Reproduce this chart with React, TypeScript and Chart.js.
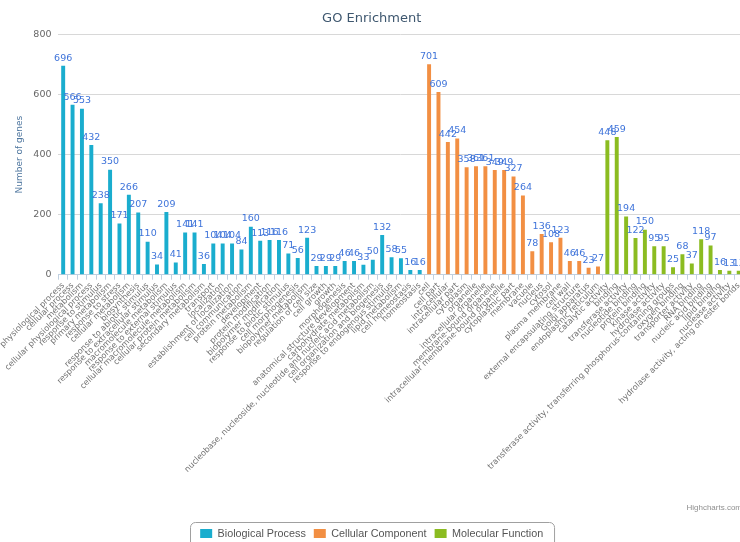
import React, { useEffect, useRef } from "react";
import { Chart, registerables } from "chart.js";

Chart.register(...registerables);

const bpLabels = [
  "physiological process",
  "cellular process",
  "metabolism",
  "cellular physiological process",
  "response to stimulus",
  "primary metabolism",
  "response to stress",
  "cellular metabolism",
  "biosynthesis",
  "response to abiotic stimulus",
  "response to extracellular stimulus",
  "macromolecule metabolism",
  "response to external stimulus",
  "cellular macromolecule metabolism",
  "cellular protein metabolism",
  "secondary metabolism",
  "transport",
  "localization",
  "establishment of localization",
  "cell communication",
  "protein metabolism",
  "development",
  "protein modification",
  "biopolymer modification",
  "response to biotic stimulus",
  "cell morphogenesis",
  "biopolymer metabolism",
  "regulation of cell size",
  "cell growth",
  "growth",
  "morphogenesis",
  "anatomical structure development",
  "carbohydrate metabolism",
  "nucleobase, nucleoside, nucleotide and nucleic acid metabolism",
  "cell organization and biogenesis",
  "response to endogenous stimulus",
  "lipid metabolism",
  "cell homeostasis",
  "homeostasis",
];
const bpValues = [
  696, 566, 553, 432, 238, 350, 171, 266, 207, 110, 34, 209, 41, 141, 141, 36,
  104, 104, 104, 84, 160, 113, 116, 116, 71, 56, 123, 29, 29, 29, 46, 46, 33,
  50, 132, 58, 55, 16, 16,
];

const ccLabels = [
  "cell",
  "cell part",
  "intracellular",
  "intracellular part",
  "cytoplasm",
  "organelle",
  "intracellular organelle",
  "membrane-bound organelle",
  "intracellular membrane-bound organelle",
  "cytoplasmic part",
  "membrane",
  "vacuole",
  "nucleus",
  "cytosol",
  "plasma membrane",
  "cell wall",
  "external encapsulating structure",
  "Golgi apparatus",
  "endoplasmic reticulum",
];
const ccValues = [
  701, 609, 442, 454, 358, 361, 361, 349, 349, 327, 264, 78, 136, 108, 123, 46,
  46, 23, 27,
];

const mfLabels = [
  "catalytic activity",
  "binding",
  "transferase activity",
  "nucleotide binding",
  "protein binding",
  "kinase activity",
  "hydrolase activity",
  "transferase activity, transferring phosphorus-containing groups",
  "oxygen binding",
  "transporter activity",
  "RNA binding",
  "nucleic acid binding",
  "lipid binding",
  "nuclease activity",
  "hydrolase activity, acting on ester bonds",
];
const mfValues = [448, 459, 194, 122, 150, 95, 95, 25, 68, 37, 118, 97, 16, 13, 13];

const seriesNames = ["Biological Process", "Cellular Component", "Molecular Function"];
const seriesColors = ["#1aadce", "#f28f43", "#8bbc21"];
const chartTitle = "GO Enrichment";
const yAxisTitle = "Number of genes";
const yMin = 0;
const yMax = 800;
const yStep = 200;
const creditText = "Highcharts.com";

const categories = [...bpLabels, ...ccLabels, ...mfLabels];
const groups = [bpValues, ccValues, mfValues];

function placeSeries(index: number): (number | null)[] {
  let offset = 0;
  for (let i = 0; i < index; i++) offset += groups[i].length;
  return categories.map((_, k) => {
    const j = k - offset;
    return j >= 0 && j < groups[index].length ? groups[index][j] : null;
  });
}

const valueLabels = {
  id: "valueLabels",
  afterDatasetsDraw(chart: any) {
    const ctx = chart.ctx;
    ctx.save();
    ctx.font = "9.5px 'DejaVu Sans'";
    ctx.fillStyle = "#3f74da";
    ctx.textAlign = "center";
    ctx.textBaseline = "bottom";
    chart.data.datasets.forEach((ds: any, i: number) => {
      const meta = chart.getDatasetMeta(i);
      meta.data.forEach((el: any, j: number) => {
        const v = ds.data[j];
        if (v == null) return;
        ctx.fillText(String(v), el.x, el.y - 3);
      });
    });
    ctx.restore();
  },
};

const legendFrame = {
  id: "legendFrame",
  afterDraw(chart: any) {
    const ctx = chart.ctx;
    const boxes = chart.legend && chart.legend.legendHitBoxes;
    ctx.save();
    if (boxes && boxes.length) {
      const left = Math.min(...boxes.map((b: any) => b.left)) - 10;
      const right = Math.max(...boxes.map((b: any) => b.left + b.width)) + 11;
      const top = Math.min(...boxes.map((b: any) => b.top)) - 6;
      const bottom = Math.max(...boxes.map((b: any) => b.top + b.height)) + 8;
      ctx.strokeStyle = "#a0a0a0";
      ctx.lineWidth = 1;
      ctx.beginPath();
      ctx.roundRect(Math.round(left) + 0.5, Math.round(top) + 0.5, right - left, bottom - top, 5);
      ctx.stroke();
    }
    ctx.font = "8px 'Liberation Sans'";
    ctx.fillStyle = "#909090";
    ctx.textAlign = "right";
    ctx.textBaseline = "middle";
    ctx.fillText(creditText, chart.width - 10, chart.legend.top - 12);
    ctx.restore();
  },
};

export default function App() {
  const ref = useRef<HTMLCanvasElement>(null);
  useEffect(() => {
    if (!ref.current) return;
    Chart.defaults.font.family = "'DejaVu Sans'";
    const chart = new Chart(ref.current, {
      type: "bar",
      data: {
        labels: categories,
        datasets: seriesNames.map((name, i) => ({
          label: name,
          data: placeSeries(i),
          backgroundColor: seriesColors[i],
          borderWidth: 0,
          barPercentage: 0.42,
          categoryPercentage: 1,
          grouped: false,
        })),
      },
      options: {
        responsive: false,
        animation: false,
        layout: { padding: { left: 0, right: 8.6, top: 0, bottom: 0 } },
        plugins: {
          title: {
            display: true,
            text: chartTitle,
            color: "#3e576f",
            font: { size: 13, weight: "normal" },
            padding: { top: 11, bottom: 8 },
          },
          legend: {
            position: "bottom",
            labels: {
              boxWidth: 12,
              boxHeight: 9,
              padding: 8,
              color: "#555555",
              font: { family: "'Liberation Sans'", size: 10.8 },
            },
          },
          tooltip: { enabled: false },
        },
        scales: {
          x: {
            afterFit: (scale: any) => {
              scale.height = 245.5;
            },
            grid: {
              display: true,
              drawOnChartArea: false,
              drawTicks: true,
              tickLength: 5,
              color: "#c0d0e0",
              offset: true,
            },
            border: { display: true, color: "#c0d0e0" },
            ticks: {
              autoSkip: false,
              minRotation: 45,
              maxRotation: 45,
              padding: 1,
              color: "#707070",
              font: { size: 8.2 },
            },
          },
          y: {
            min: yMin,
            max: yMax,
            afterFit: (scale: any) => {
              scale.width = 55.3;
            },
            ticks: {
              stepSize: yStep,
              padding: 7,
              color: "#666666",
              font: { size: 9.5 },
            },
            grid: { color: "#d8d8d8", drawTicks: false },
            border: { display: false },
            title: {
              display: true,
              text: yAxisTitle,
              color: "#4d759e",
              font: { size: 9 },
              padding: { top: 11, bottom: 0 },
            },
          },
        },
      },
      plugins: [valueLabels, legendFrame],
    });
    return () => chart.destroy();
  }, []);
  return (
    <div style={{ position: "absolute", left: 0, top: 0, width: 752, height: 549 }}>
      <canvas ref={ref} width={752} height={549} />
    </div>
  );
}
